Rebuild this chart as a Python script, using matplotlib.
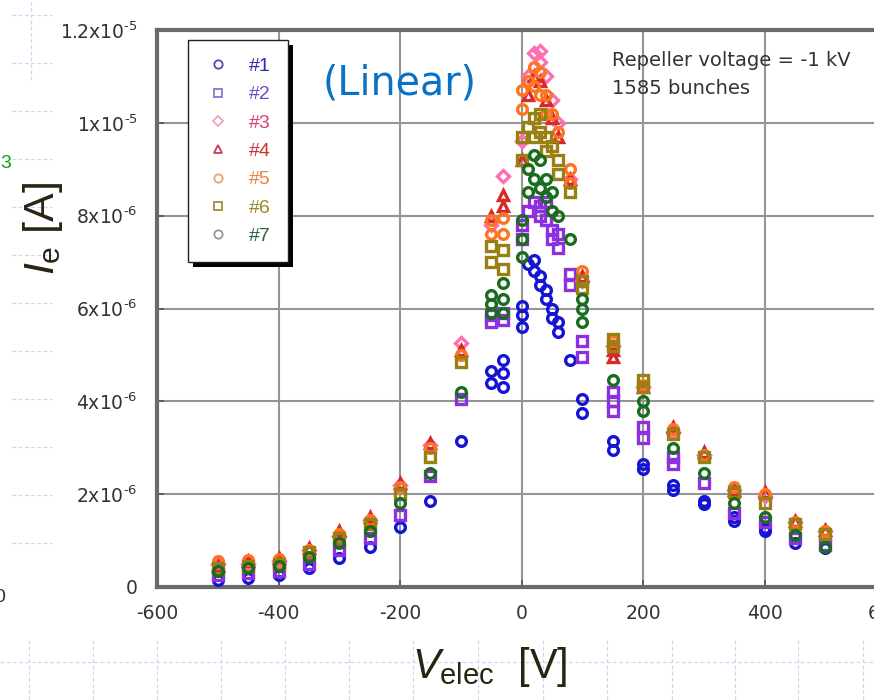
import matplotlib
matplotlib.use("Agg")
import matplotlib.pyplot as plt
from matplotlib.lines import Line2D
from matplotlib.patches import Rectangle

plt.rcParams['font.family'] = ['Liberation Sans', 'DejaVu Sans']
plt.rcParams['mathtext.fontset'] = 'custom'
plt.rcParams['mathtext.rm'] = 'DejaVu Sans'
plt.rcParams['mathtext.sf'] = 'Liberation Sans'
plt.rcParams['mathtext.it'] = 'Liberation Sans:italic'
plt.rcParams['mathtext.default'] = 'regular'

# ---------------- data (current in units of 1e-6 A) ----------------
V1 = [-500, -450, -400, -350, -300, -250, -200, -150, -100, -50, -50, -30, -30, -30, 0, 0, 0, 10, 20, 20,
      30, 30, 40, 40, 50, 50, 60, 60, 80, 100, 100, 150, 150, 200, 200, 250, 250, 300, 300, 350, 350, 400, 400, 450, 500]
I1 = [0.15, 0.2, 0.25, 0.4, 0.62, 0.86, 1.3, 1.85, 3.15, 4.4, 4.65, 4.3, 4.6, 4.9, 5.6, 5.85, 6.05, 6.95, 7.05, 6.8,
      6.7, 6.5, 6.4, 6.2, 6.0, 5.8, 5.7, 5.5, 4.9, 3.75, 4.05, 2.95, 3.15, 2.55, 2.65, 2.1, 2.2, 1.78, 1.86, 1.42, 1.5, 1.2, 1.27, 0.95, 0.85]

V2 = [-500, -450, -400, -350, -300, -250, -200, -150, -100, -50, -50, -30, -30, 0, 0, 10, 20, 30, 30, 40, 40,
      50, 50, 60, 60, 80, 80, 100, 100, 150, 150, 150, 200, 200, 250, 250, 300, 350, 400, 450, 500]
I2 = [0.25, 0.3, 0.35, 0.5, 0.8, 1.05, 1.55, 2.4, 4.05, 5.7, 5.85, 5.75, 5.9, 7.5, 7.8, 8.1, 8.3, 8.2, 8.0, 8.3, 7.9,
      7.7, 7.5, 7.3, 7.6, 6.5, 6.75, 4.95, 5.3, 3.8, 4.0, 4.2, 3.2, 3.45, 2.65, 2.8, 2.25, 1.6, 1.4, 1.05, 0.9]

V3 = [-500, -450, -400, -350, -300, -250, -200, -150, -100, -50, -30, 0, 10, 20, 30, 30, 40, 50, 60, 80, 100,
      150, 200, 250, 300, 350, 400, 450, 500]
I3 = [0.5, 0.5, 0.55, 0.8, 1.1, 1.45, 2.2, 3.05, 5.25, 7.8, 8.85, 9.6, 11.0, 11.5, 11.55, 11.3, 11.0, 10.5, 10.0, 8.8, 6.6,
      5.2, 4.3, 3.35, 2.85, 2.1, 1.95, 1.4, 1.2]

V4 = [-500, -450, -400, -350, -300, -250, -200, -150, -100, -50, -30, -30, 0, 10, 20, 30, 40, 50, 60, 80, 100,
      150, 150, 200, 250, 300, 350, 400, 450, 500]
I4 = [0.45, 0.55, 0.62, 0.85, 1.2, 1.5, 2.25, 3.1, 5.1, 8.0, 8.2, 8.45, 9.2, 10.6, 11.0, 10.9, 10.5, 10.1, 9.7, 8.8, 6.7,
      4.95, 5.1, 4.3, 3.45, 2.9, 2.1, 2.05, 1.42, 1.22]

V5 = [-500, -450, -400, -350, -300, -250, -200, -150, -100, -50, -50, -30, -30, 0, 0, 10, 20, 20, 30, 30, 40, 40,
      50, 60, 80, 80, 100, 150, 200, 250, 300, 350, 400, 450, 500]
I5 = [0.55, 0.58, 0.6, 0.8, 1.15, 1.45, 2.15, 3.0, 5.0, 7.6, 7.9, 7.6, 7.95, 10.3, 10.7, 10.9, 11.2, 10.8, 11.1, 10.6, 10.6, 10.2,
      10.2, 9.8, 8.7, 9.0, 6.8, 5.3, 4.35, 3.4, 2.85, 2.15, 2.0, 1.4, 1.2]

V6 = [-500, -450, -400, -350, -300, -250, -200, -150, -100, -50, -50, -30, -30, 0, 0, 10, 20, 20, 30, 30, 40, 40,
      50, 60, 60, 80, 100, 100, 150, 150, 200, 200, 250, 300, 350, 400, 450, 500]
I6 = [0.4, 0.45, 0.5, 0.75, 1.05, 1.35, 2.0, 2.8, 4.85, 7.0, 7.35, 6.85, 7.25, 9.2, 9.7, 9.9, 10.1, 9.7, 10.2, 9.8, 9.7, 9.4,
      9.5, 9.2, 8.9, 8.5, 6.45, 6.6, 5.2, 5.35, 4.3, 4.45, 3.3, 2.8, 2.05, 1.8, 1.35, 1.15]

V7 = [-500, -450, -400, -350, -300, -250, -200, -150, -100, -50, -50, -50, -30, -30, -30, 0, 0, 0, 10, 10, 20, 20,
      30, 30, 40, 40, 50, 50, 60, 80, 100, 100, 100, 150, 200, 200, 250, 300, 350, 400, 450, 500]
I7 = [0.35, 0.4, 0.45, 0.65, 0.95, 1.2, 1.8, 2.45, 4.2, 5.9, 6.1, 6.3, 5.9, 6.2, 6.55, 7.1, 7.5, 7.9, 8.5, 9.0, 9.3, 8.8,
      9.2, 8.6, 8.8, 8.4, 8.5, 8.1, 8.0, 7.5, 5.7, 6.0, 6.2, 4.45, 3.8, 4.0, 3.0, 2.45, 1.8, 1.5, 1.12, 0.86]

LABELS = ['#1', '#2', '#3', '#4', '#5', '#6', '#7']
X_TICKS = [-600, -400, -200, 0, 200, 400, 600]
Y_TICKS = [0, 2e-6, 4e-6, 6e-6, 8e-6, 1e-5, 1.2e-5]
HY = '\u2010'
Y_TICK_LABELS = ['0', '$2x10^{' + HY + '6}$', '$4x10^{' + HY + '6}$', '$6x10^{' + HY + '6}$',
                 '$8x10^{' + HY + '6}$', '$1x10^{' + HY + '5}$', '$1.2x10^{' + HY + '5}$']

# ---------------- styles ----------------
COLORS = ['#1414d2', '#8c30e0', '#ff6fb0', '#d82828', '#ff7420', '#9a8012', '#1a6c1e']
MARKERS = ['o', 's', 'D', '^', 'o', 's', 'o']
LEG_MARKER_COLORS = ['#4a4ab8', '#8c74d0', '#e8a4c4', '#c44050', '#f0a070', '#a09040', '#9098a0']
LEG_TEXT_COLORS = ['#2a2ab4', '#7048c8', '#d8406a', '#d03030', '#f08040', '#a08a20', '#2e6040']

W, H = 874, 700
fig = plt.figure(figsize=(W / 100, H / 100), dpi=100)
fig.patch.set_facecolor('white')

# slide background dashed grid (visible around the pasted chart)
bg = dict(color='#c9d8f2', lw=0.9, ls=(0, (3, 2)), zorder=0)
for yy in [15, 63, 111, 159, 207, 255, 303, 351, 399, 447, 495, 543]:
    fig.add_artist(Line2D([12 / W, 52 / W], [1 - yy / H, 1 - yy / H], transform=fig.transFigure, **bg))
fig.add_artist(Line2D([0, 1], [1 - 662 / H, 1 - 662 / H], transform=fig.transFigure, **bg))
for xx in [29, 93, 157, 221, 285, 349, 413, 478, 543, 607, 672, 735, 798, 863]:
    fig.add_artist(Line2D([xx / W, xx / W], [0, 1 - 638 / H], transform=fig.transFigure, **bg))
fig.add_artist(Line2D([31 / W, 31 / W], [1 - 80 / H, 1], transform=fig.transFigure, **bg))

ax = fig.add_axes([157 / W, 1 - 587 / H, 729 / W, 557 / H])
ax.set_facecolor('white')

series = [(V1, I1), (V2, I2), (V3, I3), (V4, I4), (V5, I5), (V6, I6), (V7, I7)]
for k, (vv, ii) in enumerate(series):
    ax.plot(vv, [v * 1e-6 for v in ii], ls='none', marker=MARKERS[k], ms=7.0 if MARKERS[k] != 'D' else 6.0,
            mfc='none', mec=COLORS[k], mew=2.4, zorder=3 + k)

ax.set_xlim(-600, 600)
ax.set_ylim(0, 1.2e-5)
ax.set_xticks(X_TICKS)
ax.set_xticklabels([str(t) for t in X_TICKS])
ax.set_yticks(Y_TICKS)
ax.set_yticklabels(Y_TICK_LABELS)
ax.grid(True, color='#959595', lw=1.5, zorder=1)
ax.set_axisbelow(True)
for s in ax.spines.values():
    s.set_color('#6a6a6a')
    s.set_linewidth(3)
ax.tick_params(direction='in', length=5, width=1.2, color='#555555', labelsize=13.5,
               labelcolor='#333333')
for lab in ax.get_xticklabels() + ax.get_yticklabels():
    lab.set_family('DejaVu Sans')
    lab.set_fontsize(13.5)
ax.tick_params(axis='x', pad=12)
ax.tick_params(axis='y', pad=14)

# legend
handles = [Line2D([], [], ls='none', marker=MARKERS[k], ms=6 if MARKERS[k] != 'D' else 5,
                  mfc='none', mec=LEG_MARKER_COLORS[k], mew=1.3) for k in range(7)]
leg = ax.legend(handles, LABELS, loc='upper left', bbox_to_anchor=(0.043, 0.982), fontsize=14,
                frameon=True, fancybox=False, edgecolor='#222222', facecolor='white', framealpha=1,
                labelspacing=0.55, handletextpad=0.9, borderpad=0.9, handlelength=1.3,
                borderaxespad=0)
leg.get_frame().set_linewidth(1.0)
for t, c in zip(leg.get_texts(), LEG_TEXT_COLORS):
    t.set_color(c)
leg.set_zorder(20)

# annotations
fig.text(612 / W, 1 - 60 / H, 'Repeller voltage = -1 kV', fontsize=14, family='DejaVu Sans',
         color='#333333', va='center', ha='left')
fig.text(612 / W, 1 - 89 / H, '1585 bunches', fontsize=14, family='DejaVu Sans',
         color='#333333', va='center', ha='left')
fig.text(400 / W, 1 - 83 / H, '(Linear)', fontsize=28.5, family='DejaVu Sans',
         color='#0a72c4', va='center', ha='center')

fig.text(43 / W, 1 - 228 / H, r'$\mathit{I}_{\mathsf{e}}$ [A]', fontsize=31, color='#2a2412',
         rotation=90, va='center', ha='center')
fig.text(490 / W, 1 - 667 / H, r'$\mathit{V}_{\mathsf{elec}}$  [V]', fontsize=30, color='#2a2412',
         va='center', ha='center')

fig.text(0, 1 - 163 / H, '3', fontsize=14, color='#14a014', va='center', ha='left')
fig.text(-6 / W, 1 - 597 / H, '0', fontsize=14, color='#333333', va='center', ha='left')

# legend drop shadow (solid black, offset right/down)
fig.canvas.draw()
bb = leg.get_window_extent()
ax.add_patch(Rectangle((bb.x0 + 5, bb.y0 - 5), bb.width, bb.height, transform=None,
                       facecolor='black', edgecolor='none', zorder=19, clip_on=False))

fig.savefig('out.png', dpi=100, facecolor='white')
